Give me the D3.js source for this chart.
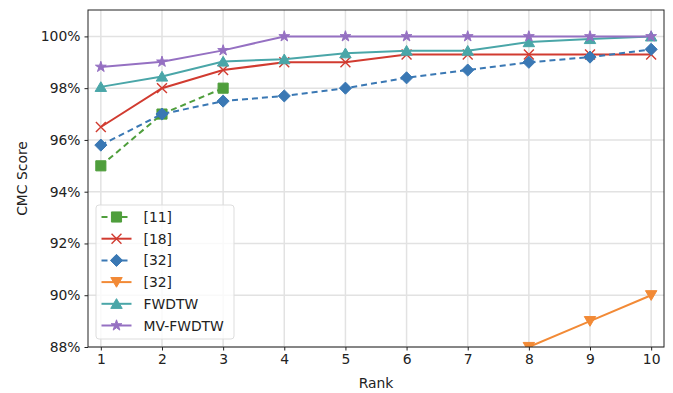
<!doctype html>
<html>
<head>
<meta charset="utf-8">
<title>CMC</title>
<script src="https://d3js.org/d3.v7.min.js"></script>
<style>
  body { margin:0; background:#fff; }
  text { font-family: "DejaVu Sans", sans-serif; fill:#222; }
</style>
</head>
<body>
<div id="chart"></div>
<script>
// data
var ranks = [1,2,3,4,5,6,7,8,9,10];
var yTicks = [88,90,92,94,96,98,100];
var ref11  = [95.0, 97.0, 98.0];
var ref18  = [96.5, 98.0, 98.7, 99.0, 99.0, 99.3, 99.3, 99.3, 99.3, 99.3];
var ref32a = [95.8, 97.0, 97.5, 97.7, 98.0, 98.4, 98.7, 99.0, 99.2, 99.5];
var ref32b = [88.0, 89.0, 90.0];
var fwdtw  = [98.05, 98.45, 99.03, 99.12, 99.35, 99.45, 99.45, 99.78, 99.9, 100];
var mvfw   = [98.82, 99.02, 99.46, 100, 100, 100, 100, 100, 100, 100];

var series = [
  {name:"[11]",     x:[1,2,3],  y:ref11,  color:"#4f9e3c", dash:"6,4", marker:"square"},
  {name:"[18]",     x:ranks,    y:ref18,  color:"#d13b30", dash:null,  marker:"cross"},
  {name:"[32]",     x:ranks,    y:ref32a, color:"#3a78b4", dash:"6,4", marker:"diamond"},
  {name:"[32]",     x:[8,9,10], y:ref32b, color:"#f28a36", dash:null,  marker:"tri"},
  {name:"FWDTW",    x:ranks,    y:fwdtw,  color:"#4aa6a8", dash:null,  marker:"triup"},
  {name:"MV-FWDTW", x:ranks,    y:mvfw,   color:"#9570c2", dash:null,  marker:"star"}
];

var fs = "13.9px";
var width = 673, height = 393;
var m = {left:88, right:9, top:10, bottom:46};
var pw = width - m.left - m.right, ph = height - m.top - m.bottom;

var svg = d3.select("#chart").append("svg")
  .attr("width", width).attr("height", height);

var x = d3.scaleLinear().domain([0.79, 10.21]).range([0, pw]);
var y = d3.scaleLinear().domain([88, 101.02]).range([ph, 0]);

var g = svg.append("g").attr("transform","translate(" + m.left + "," + m.top + ")");

svg.append("defs").append("clipPath").attr("id","clip")
  .append("rect").attr("width", pw).attr("height", ph);

// grid
g.selectAll(".gx").data(ranks).enter().append("line")
  .attr("x1", d => x(d)).attr("x2", d => x(d))
  .attr("y1", 0).attr("y2", ph)
  .attr("stroke","#e2e2e2").attr("stroke-width",1.5);
g.selectAll(".gy").data(yTicks).enter().append("line")
  .attr("x1", 0).attr("x2", pw)
  .attr("y1", d => y(d)).attr("y2", d => y(d))
  .attr("stroke","#e2e2e2").attr("stroke-width",1.5);

// axes
var xa = g.append("g").attr("transform","translate(0," + ph + ")")
  .call(d3.axisBottom(x).tickValues(ranks).tickSize(3.5).tickPadding(4).tickFormat(d3.format("d")));
var ya = g.append("g")
  .call(d3.axisLeft(y).tickValues(yTicks).tickSize(3.5).tickPadding(4).tickFormat(d => d + "%"));
[xa, ya].forEach(function(a){
  a.select(".domain").remove();
  a.selectAll("text").style("font-family","DejaVu Sans").style("font-size",fs).attr("fill","#222");
  a.selectAll("line").attr("stroke","#222");
});

function markerPath(type, s) {
  if (type == "square") { var q = s*0.46; return "M"+(-q)+","+(-q)+"H"+q+"V"+q+"H"+(-q)+"Z"; }
  else if (type == "diamond") { var a = s*0.55; return "M0,"+(-a)+"L"+a+",0L0,"+a+"L"+(-a)+",0Z"; }
  else if (type == "cross") { var h = s*0.45; return "M"+(-h)+","+(-h)+"L"+h+","+h+"M"+(-h)+","+h+"L"+h+","+(-h); }
  else if (type == "tri") { var t = s*0.52; return "M"+(-t)+","+(-t*0.8)+"L"+t+","+(-t*0.8)+"L0,"+(t*0.9)+"Z"; }
  else if (type == "triup") { var t = s*0.52; return "M"+(-t)+","+(t*0.8)+"L"+t+","+(t*0.8)+"L0,"+(-t*0.9)+"Z"; }
  else if (type == "star") return d3.symbol(d3.symbolStar, s*s*0.3)();
}

var plot = g.append("g").attr("clip-path","url(#clip)");
var line = d3.line().x(d => x(d[0])).y(d => y(d[1]));

series.forEach(function(s){
  var pts = s.x.map((v,i) => [v, s.y[i]]);
  plot.append("path").datum(pts)
    .attr("d", line).attr("fill","none")
    .attr("stroke", s.color).attr("stroke-width",2)
    .attr("stroke-dasharray", s.dash);
  plot.selectAll(null).data(pts).enter().append("path")
    .attr("transform", d => "translate(" + x(d[0]) + "," + y(d[1]) + ")")
    .attr("d", markerPath(s.marker, 11))
    .attr("fill", s.marker == "cross" ? "none" : s.color)
    .attr("stroke", s.color)
    .attr("stroke-width", s.marker == "cross" ? 1.4 : 1);
});

// frame
g.append("rect").attr("width", pw).attr("height", ph)
  .attr("fill","none").attr("stroke","#222").attr("stroke-width",1);

// legend
var lg = svg.append("g").attr("transform","translate(96,205)");
lg.append("rect").attr("width",138).attr("height",134).attr("rx",3)
  .attr("fill","#fff").attr("fill-opacity",0.8).attr("stroke","#ddd");
series.forEach(function(s,i){
  var yy = 12 + i*21.7;
  lg.append("line").attr("x1",5.5).attr("x2",35.5).attr("y1",yy).attr("y2",yy)
    .attr("stroke",s.color).attr("stroke-width",2).attr("stroke-dasharray", s.dash);
  lg.append("path").attr("transform","translate(20.5," + yy + ")")
    .attr("d", markerPath(s.marker, 11))
    .attr("fill", s.marker == "cross" ? "none" : s.color)
    .attr("stroke", s.color).attr("stroke-width", s.marker == "cross" ? 1.4 : 1);
  lg.append("text").attr("x",47.5).attr("y",yy+5).style("font-size",fs).text(s.name);
});

// axis labels
svg.append("text").attr("x", m.left + pw/2).attr("y", 388)
  .attr("text-anchor","middle").style("font-size",fs).text("Rank");
svg.append("text").attr("transform","translate(27," + (m.top + ph/2) + ") rotate(-90)")
  .attr("text-anchor","middle").style("font-size",fs).text("CMC Score");
</script>
</body>
</html>
